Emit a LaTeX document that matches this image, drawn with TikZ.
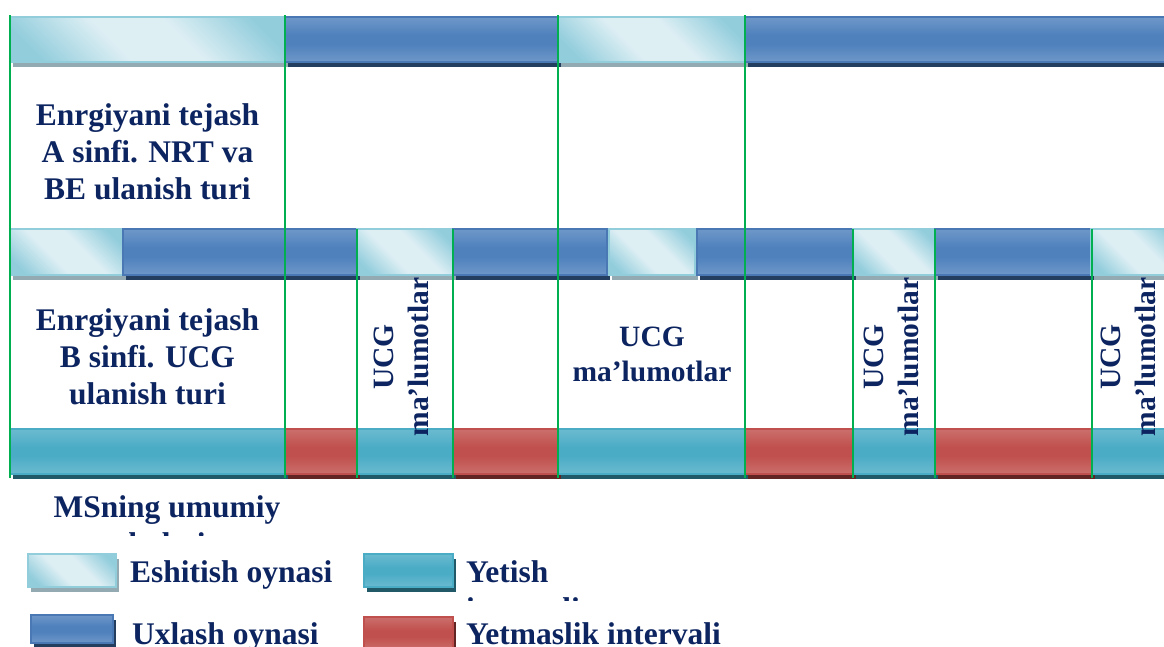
\documentclass[tikz,border=0pt]{standalone}
\usepackage{fontspec}
\setmainfont{Liberation Serif}
\usetikzlibrary{shadows}

\definecolor{inkNavy}{RGB}{12,36,96}
\definecolor{gridGreen}{RGB}{0,176,80}
\definecolor{lisEdge}{RGB}{146,205,220}
\definecolor{lisLight}{RGB}{222,239,244}
\definecolor{lisShadow}{RGB}{148,170,178}
\definecolor{slpLight}{RGB}{149,179,215}
\definecolor{slpMid}{RGB}{79,129,189}
\definecolor{slpEdge}{RGB}{74,120,180}
\definecolor{slpShadow}{RGB}{36,62,96}
\definecolor{rchLight}{RGB}{146,205,220}
\definecolor{rchMid}{RGB}{75,172,198}
\definecolor{rchShadow}{RGB}{33,89,104}
\definecolor{misLight}{RGB}{217,150,148}
\definecolor{misMid}{RGB}{192,80,77}
\definecolor{misShadow}{RGB}{99,37,35}

\pgfdeclarehorizontalshading{lisShade}{100bp}{color(0bp)=(lisEdge); color(22bp)=(lisEdge); color(42bp)=(lisLight); color(58bp)=(lisLight); color(78bp)=(lisEdge); color(100bp)=(lisEdge)}
\pgfdeclareverticalshading{slpShade}{100bp}{color(0bp)=(slpLight); color(45bp)=(slpMid); color(55bp)=(slpMid); color(100bp)=(slpLight)}
\pgfdeclareverticalshading{rchShade}{100bp}{color(0bp)=(rchLight); color(45bp)=(rchMid); color(55bp)=(rchMid); color(100bp)=(rchLight)}
\pgfdeclareverticalshading{misShade}{100bp}{color(0bp)=(misLight); color(45bp)=(misMid); color(55bp)=(misMid); color(100bp)=(misLight)}

\begin{document}
\begin{tikzpicture}[x=1pt,y=-1pt,
  listen/.style={draw=lisEdge, line width=1.5, shade, shading=lisShade, shading angle=45,
    drop shadow={shadow xshift=3pt, shadow yshift=-5pt, fill=lisShadow, opacity=1}},
  sleep/.style={draw=slpEdge, line width=1.5, shade, shading=slpShade,
    drop shadow={shadow xshift=3pt, shadow yshift=-5pt, fill=slpShadow, opacity=1}},
  reach/.style={draw=rchMid, line width=1.5, shade, shading=rchShade,
    drop shadow={shadow xshift=3pt, shadow yshift=-5pt, fill=rchShadow, opacity=1}},
  miss/.style={draw=misMid, line width=1.5, shade, shading=misShade,
    drop shadow={shadow xshift=3pt, shadow yshift=-5pt, fill=misShadow, opacity=1}},
  gridline/.style={draw=gridGreen, line width=1.5},
  lbl/.style={text=inkNavy, align=center, inner sep=0pt, font=\bfseries\fontsize{31.5}{37}\selectfont},
  ucg/.style={lbl, font=\bfseries\fontsize{29.5}{35}\selectfont}]
\useasboundingbox (0,0) rectangle (1164,646);
\clip (0,0) rectangle (1164,646);
\fill[white] (0,0) rectangle (1164,646);
\draw[listen] (10,17) rectangle (285,62);
\draw[sleep] (285,17) rectangle (558,62);
\draw[listen] (558,17) rectangle (745,62);
\draw[sleep] (745,17) rectangle (1180,62);
\draw[listen] (10,229) rectangle (123,275);
\draw[sleep] (123,229) rectangle (357,275);
\draw[listen] (357,229) rectangle (453,275);
\draw[sleep] (453,229) rectangle (607,275);
\draw[listen] (609,229) rectangle (695,275);
\draw[sleep] (697,229) rectangle (853,275);
\draw[listen] (853,229) rectangle (935,275);
\draw[sleep] (935,229) rectangle (1091,275);
\draw[listen] (1091,229) rectangle (1180,275);
\draw[reach] (10,429) rectangle (285,474);
\draw[miss] (285,429) rectangle (357,474);
\draw[reach] (357,429) rectangle (453,474);
\draw[miss] (453,429) rectangle (558,474);
\draw[reach] (558,429) rectangle (745,474);
\draw[miss] (745,429) rectangle (853,474);
\draw[reach] (853,429) rectangle (935,474);
\draw[miss] (935,429) rectangle (1092,474);
\draw[reach] (1092,429) rectangle (1180,474);
\draw[gridline] (10,15) -- (10,478);
\draw[gridline] (285,15) -- (285,478);
\draw[gridline] (558,15) -- (558,478);
\draw[gridline] (745,15) -- (745,478);
\draw[gridline] (357,229) -- (357,478);
\draw[gridline] (453,229) -- (453,478);
\draw[gridline] (853,229) -- (853,478);
\draw[gridline] (935,229) -- (935,478);
\draw[gridline] (1092,229) -- (1092,478);
\node[lbl] (clsA) at (147.5,151.5) {Enrgiyani tejash\\A sinfi. NRT va\\BE ulanish turi};
\node[lbl] (clsB) at (147.5,356.5) {Enrgiyani tejash\\B sinfi. UCG\\ulanish turi};
\node[ucg, rotate=90] (ucgA) at (401.5,357) {UCG\\ma’lumotlar};
\node[ucg] (ucgB) at (652,354.5) {UCG\\ma’lumotlar};
\node[ucg, rotate=90] (ucgC) at (891.5,357) {UCG\\ma’lumotlar};
\node[ucg, rotate=90] (ucgD) at (1128.5,357) {UCG\\ma’lumotlar};
\begin{scope}
\clip (0,0) rectangle (1164,535);
\node[lbl] (msState) at (167,525) {MSning umumiy\\holati};
\end{scope}
\draw[listen] (28,554) rectangle (116,587);
\draw[reach] (364,554) rectangle (453,587);
\draw[sleep] (31,615) rectangle (113,643);
\draw[miss] (364,617) rectangle (453,650);
\node[lbl, anchor=base west] (keyListen) at (130,582) {Eshitish oynasi};
\begin{scope}
\clip (0,0) rectangle (1164,600);
\node[lbl, align=left, anchor=west] (keyReach) at (466,590) {Yetish\\intervali};
\end{scope}
\node[lbl, anchor=base west] (keySleep) at (132,644) {Uxlash oynasi};
\node[lbl, anchor=base west] (keyMiss) at (466,644) {Yetmaslik intervali};
\end{tikzpicture}
\end{document}
